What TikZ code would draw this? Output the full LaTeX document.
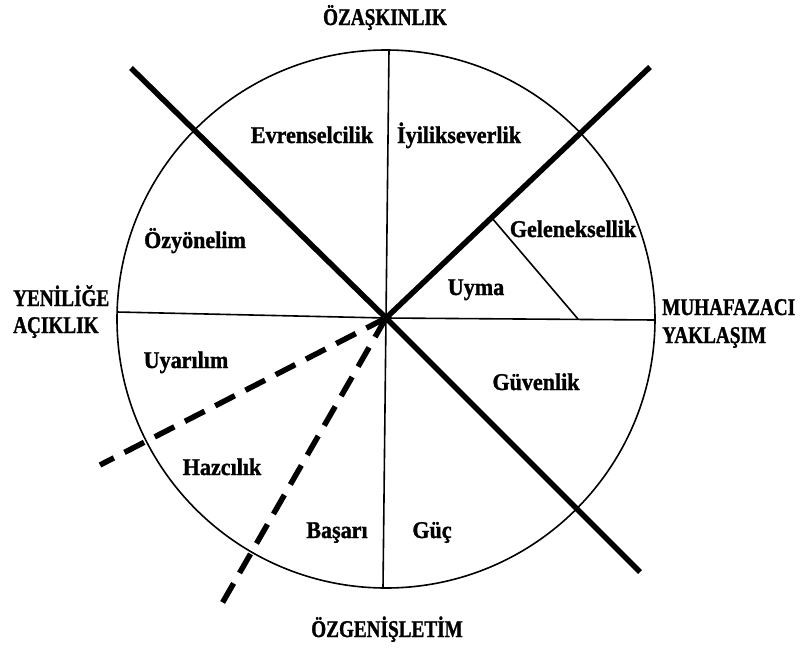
\documentclass[tikz,border=0pt]{standalone}
\usepackage{fontspec}
\setmainfont{Liberation Serif}
\newfontfamily\outerfont[FakeStretch=0.8, FakeBold=1.2]{Liberation Serif Bold}
\newfontfamily\innerfont[FakeStretch=0.92, FakeBold=1.2]{Liberation Serif Bold}
\usetikzlibrary{calc}
\begin{document}
\begin{tikzpicture}[x=1pt,y=-1pt,
  thinline/.style={line width=1.6pt},
  thickline/.style={line width=5.5pt},
  dashline/.style={line width=5.5pt, dash pattern=on 22pt off 12pt},
  outerlab/.style={font=\outerfont\fontsize{24}{28}\selectfont, inner sep=0pt},
  innerlab/.style={font=\innerfont\fontsize{24}{28}\selectfont, inner sep=0pt, anchor=base}]
\useasboundingbox (0,0) rectangle (804,649);
% geometry
\coordinate (c) at (386,318);
\coordinate (top) at (389,50);
\coordinate (bot) at (383,588);
\coordinate (lft) at (117,312);
\coordinate (rgt) at (655,320);
\coordinate (ul) at (131,68);
\coordinate (lr) at (640,572);
\coordinate (ur) at (650,67);
\coordinate (d1) at (100,465);
\coordinate (d2) at (220,607);
\coordinate (g1) at ($(c)!0.4!(ur)$);
\coordinate (g2) at (578,319);
% circle and thin lines
\draw[thinline] (386,319) circle[radius=269];
\draw[thinline] (top) -- (c) -- (bot);
\draw[thinline] (lft) -- (c) -- (rgt);
\draw[thinline] (g1) -- (g2);
% thick lines
\draw[thickline] (ul) -- (c) -- (lr);
\draw[thickline] (c) -- (ur);
\draw[dashline] (c) -- (d1);
\draw[dashline] (c) -- (d2);
% outer labels
\node[outerlab, anchor=base] (n1) at (385,25) {ÖZAŞKINLIK};
\node[outerlab, anchor=base west] (w1) at (13,306) {YENİLİĞE};
\node[outerlab, anchor=base west] (w2) at (13,333) {AÇIKLIK};
\node[outerlab, anchor=base west] (e1) at (662,315) {MUHAFAZACI};
\node[outerlab, anchor=base west] (e2) at (662,343) {YAKLAŞIM};
\node[outerlab, anchor=base] (s1) at (387,637) {ÖZGENİŞLETİM};
% inner labels
\node[innerlab] (l1) at (312,143) {Evrenselcilik};
\node[innerlab] (l2) at (459,143) {İyilikseverlik};
\node[innerlab] (l3) at (573,237) {Geleneksellik};
\node[innerlab] (l4) at (195,248) {Özyönelim};
\node[innerlab] (l5) at (476,295) {Uyma};
\node[innerlab] (l6) at (186,368) {Uyarılım};
\node[innerlab] (l7) at (222,475) {Hazcılık};
\node[innerlab] (l8) at (337,538) {Başarı};
\node[innerlab] (l9) at (432,538) {Güç};
\node[innerlab] (l10) at (536,390) {Güvenlik};
\end{tikzpicture}
\end{document}
